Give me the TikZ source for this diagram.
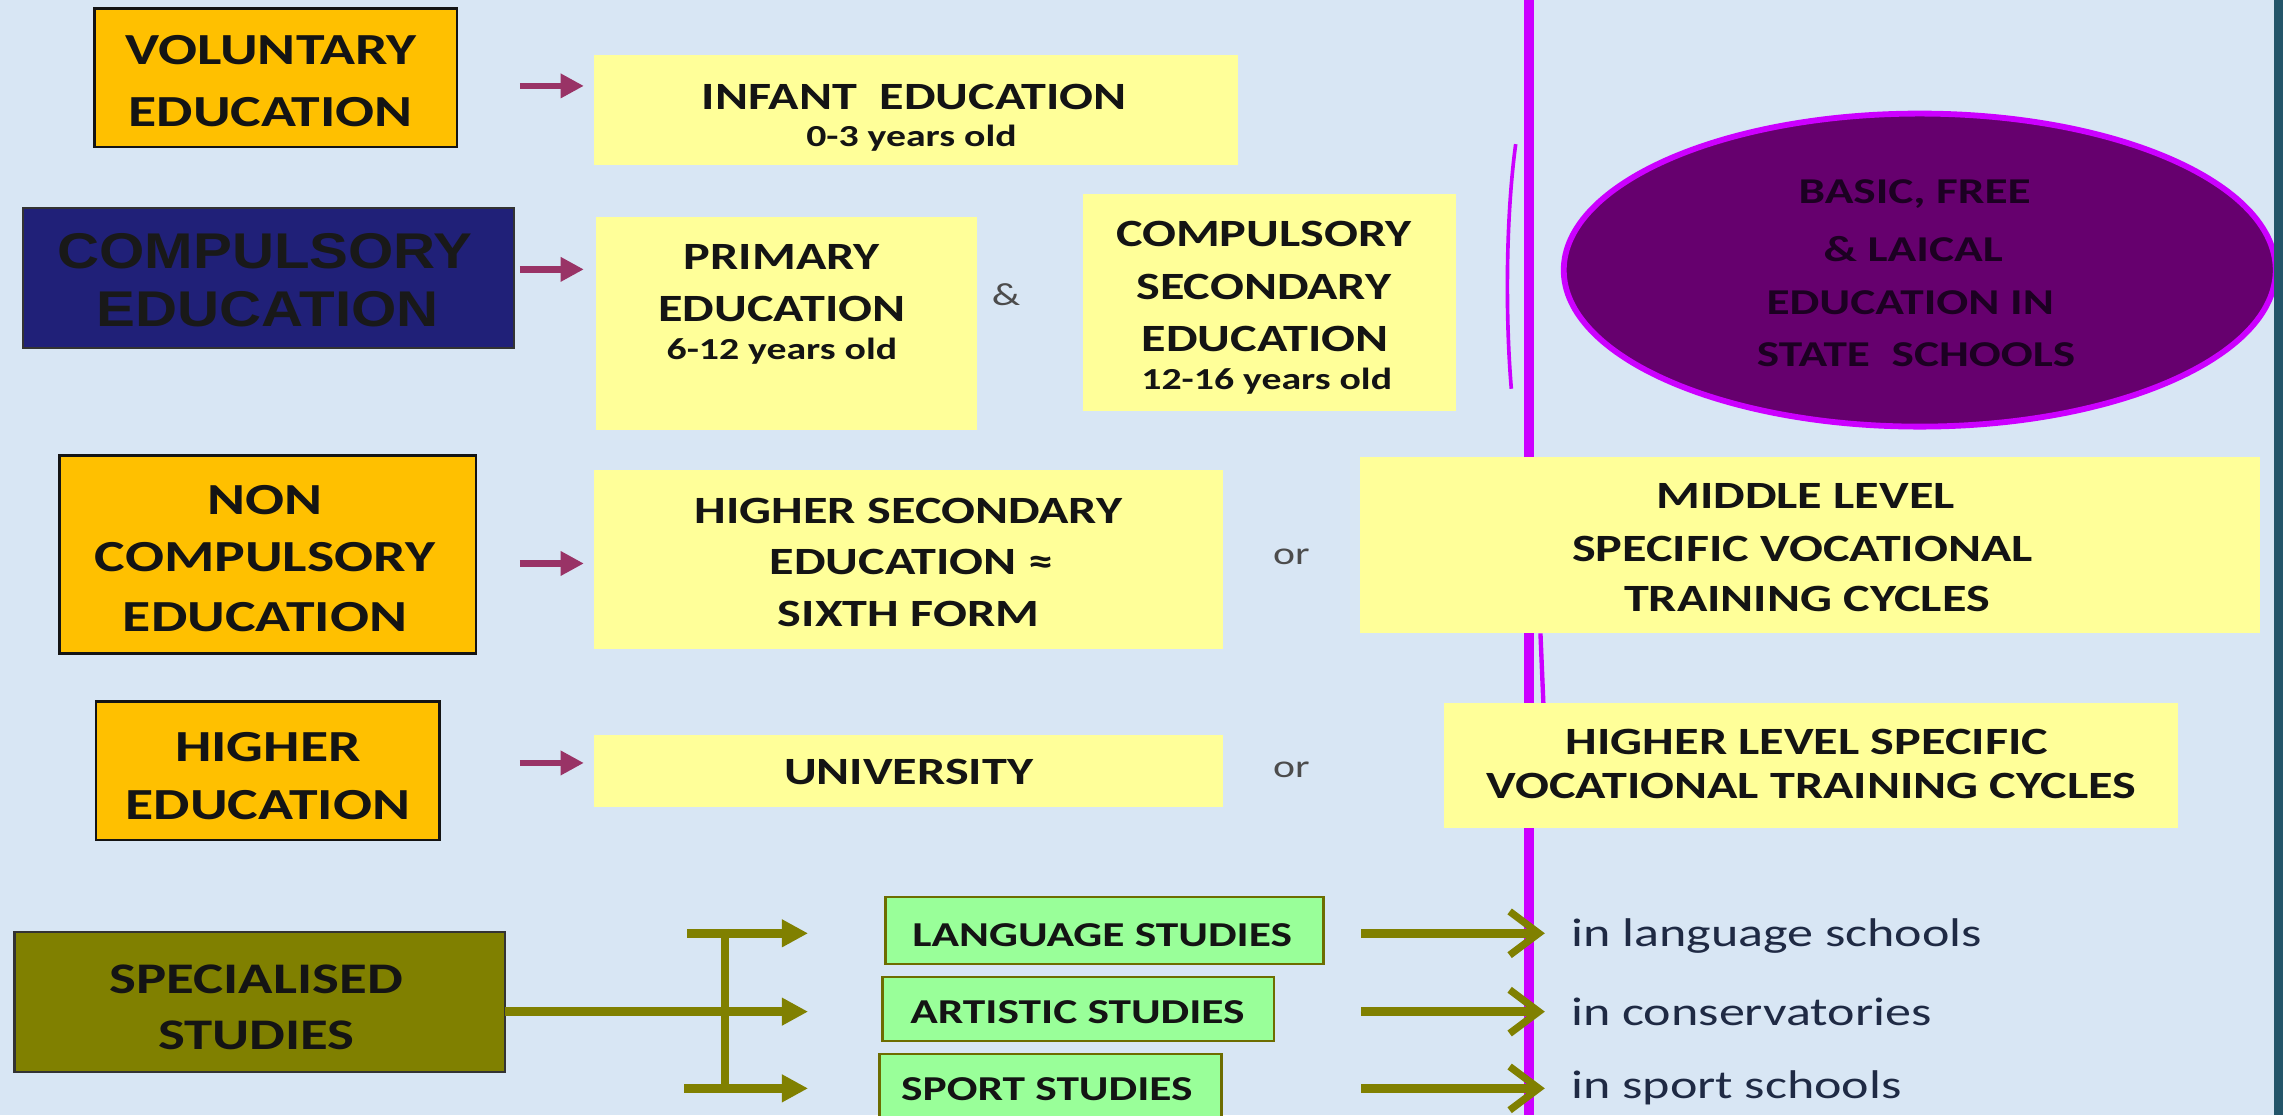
\documentclass[tikz,border=0pt]{standalone}
\usepackage{fontspec}
\setmainfont{Carlito}[FakeStretch=1.3]
\newfontfamily\arialb{Liberation Sans}[FakeStretch=1.16]
\usetikzlibrary{arrows.meta,shapes.geometric}
\definecolor{bg}{RGB}{216,230,244}
\definecolor{orng}{RGB}{255,192,0}
\definecolor{yel}{RGB}{255,255,153}
\definecolor{navyb}{RGB}{32,32,120}
\definecolor{oliv}{RGB}{128,128,0}
\definecolor{grn}{RGB}{153,255,153}
\definecolor{maroonc}{RGB}{153,51,102}
\definecolor{viol}{RGB}{204,0,255}
\definecolor{plum}{RGB}{102,0,110}
\definecolor{plumtext}{RGB}{28,0,34}
\definecolor{ink}{RGB}{20,20,20}
\definecolor{navytext}{RGB}{31,42,68}
\definecolor{edge}{RGB}{35,85,105}
\tikzset{
  obox/.style={rectangle, draw=ink, line width=1.8pt, fill=orng, inner sep=0pt, outer sep=0pt},
  ybox/.style={rectangle, fill=yel, inner sep=0pt, outer sep=0pt},
  nbox/.style={rectangle, draw=black!80, line width=1.5pt, fill=navyb, inner sep=0pt, outer sep=0pt},
  spbox/.style={rectangle, draw=black!80, line width=1.5pt, fill=oliv, inner sep=0pt, outer sep=0pt},
  gbox/.style={rectangle, draw=oliv!85!black, line width=1.8pt, fill=grn, inner sep=0pt, outer sep=0pt},
  txt/.style={anchor=base, inner sep=0pt, text=ink},
  otext/.style={txt, font=\fontsize{30.5}{36}\selectfont\bfseries},
  ytext/.style={txt, font=\fontsize{26.5}{32}\selectfont\bfseries},
  agetext/.style={txt, font=\fontsize{21}{25}\selectfont\bfseries},
  ntext/.style={txt, text=black!90, font=\arialb\fontsize{34.5}{40}\selectfont\bfseries},
  gtext/.style={txt, font=\fontsize{24}{28}\selectfont\bfseries},
  stext/.style={txt, font=\fontsize{30}{36}\selectfont\bfseries},
  etext/.style={txt, text=plumtext, font=\fontsize{25}{30}\selectfont\bfseries},
  ptext/.style={anchor=base west, inner sep=0pt, text=navytext, font=\fontsize{27.5}{32}\selectfont},
  conj/.style={anchor=base, inner sep=0pt, text=black!70, font=\fontsize{22}{26}\selectfont},
  marr/.style={draw=maroonc, line width=4.5pt, -{Triangle[length=16pt,width=16pt]}},
  oarr/.style={draw=oliv, line width=6.5pt, -{Triangle[length=18pt,width=18pt]}},
  carr/.style={draw=oliv, line width=6pt, -{Straight Barb[length=20pt,width=30pt,line width=5pt]}},
  vline/.style={draw=viol, line width=7pt},
}
\begin{document}
\begin{tikzpicture}[x=1pt,y=-1pt]
\useasboundingbox (0,0) rectangle (1568,766);
\fill[bg] (0,0) rectangle (1568,766);

% violet divider
\coordinate (vtop) at (1050,0);
\coordinate (vbot) at (1050,766);
\draw[vline] (vtop) -- (vbot);
\coordinate (va1) at (1041,99);
\coordinate (va2) at (1038,267);
\draw[draw=viol, line width=2.5pt] (va1) .. controls (1034,150) and (1034,220) .. (va2);
\coordinate (vb1) at (1058,435);
\coordinate (vb2) at (1060,483);
\draw[draw=viol, line width=3pt] (vb1) -- (vb2);

% left column boxes
\node[obox, minimum width=249pt, minimum height=95pt] (vol) at (189.5,53.5) {};
\node[nbox, minimum width=337pt, minimum height=96pt] (comp) at (184.5,191) {};
\node[obox, minimum width=286pt, minimum height=136pt] (noncomp) at (184,381) {};
\node[obox, minimum width=236pt, minimum height=95pt] (higher) at (184,529.5) {};
\node[spbox, minimum width=337pt, minimum height=96pt] (spec) at (178.5,688) {};

% yellow boxes
\node[ybox, minimum width=442pt, minimum height=75pt] (infant) at (629,75.5) {};
\node[ybox, minimum width=262pt, minimum height=146pt] (prim) at (540,222) {};
\node[ybox, minimum width=256pt, minimum height=149pt] (csec) at (872,207.5) {};
\node[ybox, minimum width=432pt, minimum height=123pt] (hsec) at (624,384.5) {};
\node[ybox, minimum width=618pt, minimum height=121pt] (mid) at (1243,374.5) {};
\node[ybox, minimum width=432pt, minimum height=49pt] (univ) at (624,529.5) {};
\node[ybox, minimum width=504pt, minimum height=86pt] (hlevel) at (1244,526) {};

% green boxes
\node[gbox, minimum width=301pt, minimum height=46pt] (lang) at (758.5,639) {};
\node[gbox, minimum width=269pt, minimum height=44pt] (art) at (740.5,693) {};
\node[gbox, minimum width=235pt, minimum height=66pt] (sport) at (721.5,757) {};

% ellipse
\node[ellipse, draw=viol, line width=4pt, fill=plum, minimum width=489pt, minimum height=215pt, inner sep=0pt] (ell) at (1318.5,185.5) {};

% texts
\node[otext] (vol1) at (186,44.6) {VOLUNTARY};
\node[otext] (vol2) at (186,87) {EDUCATION};
\node[ntext] (comp1) at (182,184.3) {COMPULSORY};
\node[ntext] (comp2) at (184,224.4) {EDUCATION};
\node[otext] (nc1) at (182,353.7) {NON};
\node[otext] (nc2) at (182,392.6) {COMPULSORY};
\node[otext] (nc3) at (182,433.8) {EDUCATION};
\node[otext] (he1) at (184,523) {HIGHER};
\node[otext] (he2) at (184,563) {EDUCATION};
\node[stext] (sp1) at (176,682.2) {SPECIALISED};
\node[stext] (sp2) at (176,721.1) {STUDIES};

\node[ytext] (inf1) at (628,75.5) {INFANT\hspace{0.3em} EDUCATION};
\node[agetext] (inf2) at (626,100.5) {0-3 years old};
\node[ytext] (pr1) at (537,185.4) {PRIMARY};
\node[ytext] (pr2) at (537,220.9) {EDUCATION};
\node[agetext] (pr3) at (537,247) {6-12 years old};
\node[conj] (amp) at (691,210) {\&};
\node[ytext] (cs1) at (868,169.4) {COMPULSORY};
\node[ytext] (cs2) at (868,206) {SECONDARY};
\node[ytext] (cs3) at (869,241.5) {EDUCATION};
\node[agetext] (cs4) at (870,267.8) {12-16 years old};
\node[ytext] (hs1) at (624,359.4) {HIGHER SECONDARY};
\node[ytext] (hs2) at (626,394.9) {EDUCATION ≈};
\node[ytext] (hs3) at (624,430.3) {SIXTH FORM};
\node[conj] (or1) at (887,388) {or};
\node[ytext] (md1) at (1240,349) {MIDDLE LEVEL};
\node[ytext] (md2) at (1238,385.7) {SPECIFIC VOCATIONAL};
\node[ytext] (md3) at (1241,420) {TRAINING CYCLES};
\node[ytext] (un1) at (624,538.5) {UNIVERSITY};
\node[conj] (or2) at (887,534) {or};
\node[ytext] (hl1) at (1241,518.5) {HIGHER LEVEL SPECIFIC};
\node[ytext] (hl2) at (1244,548.2) {VOCATIONAL TRAINING CYCLES};

\node[gtext] (lg1) at (757,650) {LANGUAGE STUDIES};
\node[gtext] (ar1) at (740,702.8) {ARTISTIC STUDIES};
\node[gtext] (st1) at (719,755.5) {SPORT STUDIES};

\node[ptext] (p1) at (1079,650.2) {in language schools};
\node[ptext] (p2) at (1079,704) {in conservatories};
\node[ptext] (p3) at (1079,754.3) {in sport schools};

\node[etext] (e1) at (1315,139.6) {BASIC, FREE};
\node[etext] (e2) at (1314,179.7) {\& LAICAL};
\node[etext] (e3) at (1312,216.3) {EDUCATION IN};
\node[etext] (e4) at (1316,251.8) {STATE\hspace{0.3em} SCHOOLS};

% maroon arrows
\coordinate (a1) at (357,59);
\coordinate (a2) at (357,185);
\coordinate (a3) at (357,387);
\coordinate (a4) at (357,524);
\draw[marr, shorten >=7pt] (a1) -- (a1 -| infant.west);
\draw[marr, shorten >=8pt] (a2) -- (a2 -| prim.west);
\draw[marr, shorten >=7pt] (a3) -- (a3 -| hsec.west);
\draw[marr, shorten >=7pt] (a4) -- (a4 -| univ.west);

% olive tree
\coordinate (tv1) at (498,638);
\coordinate (tv2) at (498,750.5);
\draw[draw=oliv, line width=6pt] (tv1) -- (tv2);
\coordinate (tb1) at (472,641);
\coordinate (tb2) at (347,694.8);
\coordinate (tb3) at (470,747.5);
\draw[oarr, shorten >=53pt] (tb1) -- (tb1 -| lang.west);
\draw[oarr, shorten >=51pt] (tb2) -- (tb2 -| art.west);
\draw[oarr, shorten >=49pt] (tb3) -- (tb3 -| sport.west);

% chevron arrows
\coordinate (c1) at (935,641);
\coordinate (c2) at (935,694.8);
\coordinate (c3) at (935,747.5);
\draw[carr, shorten >=18pt] (c1) -- (c1 -| p1.west);
\draw[carr, shorten >=18pt] (c2) -- (c2 -| p2.west);
\draw[carr, shorten >=18pt] (c3) -- (c3 -| p3.west);

% right edge strip
\fill[edge] (1562,0) rectangle (1568,766);
\end{tikzpicture}
\end{document}
